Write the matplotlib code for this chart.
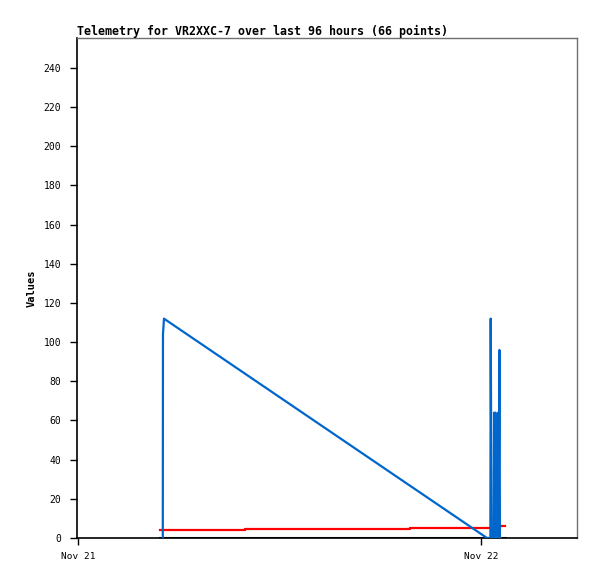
import matplotlib
matplotlib.use("Agg")
import matplotlib.pyplot as plt

# hours since Nov 21 00:00
blue_t = [5.05, 5.06, 5.12, 24.36, 24.56, 24.58, 24.63, 24.76, 24.78, 24.82, 24.86, 24.90, 24.93, 24.96, 24.99, 25.02, 25.05, 25.10, 25.13, 25.16]
blue_v = [0, 104, 112, 0, 0, 112, 0, 0, 64, 0, 64, 32, 0, 48, 0, 64, 0, 96, 0, 0]

red_t = [4.88, 9.95, 19.80, 25.15, 25.43]
red_v = [4.1, 4.6, 5.1, 6.0, 6.0]

black_t = [4.88, 25.43]
black_v = [0, 0]

xtick_pos = [0, 24]
xtick_labels = ["Nov 21", "Nov 22"]
yticks = list(range(0, 241, 20))

title = "Telemetry for VR2XXC-7 over last 96 hours (66 points)"

mono = "DejaVu Sans Mono"
fig = plt.figure(figsize=(5.97, 5.79), dpi=100)
ax = fig.add_axes([77/597, 1-538/579, 500/597, 500/579])

ax.plot(red_t, red_v, color="#ff0000", lw=1.6, drawstyle="steps-post", zorder=2)
ax.plot(black_t, black_v, color="#000000", lw=2.2, zorder=3)
ax.plot(blue_t, blue_v, color="#0066cc", lw=1.6, zorder=4)

ax.set_xlim(-0.06, 29.72)
ax.set_ylim(0, 255.3)
ax.set_xticks(xtick_pos)
ax.set_xticklabels(xtick_labels, family=mono, fontsize=6.8)
ax.set_yticks(yticks)
ax.set_yticklabels([str(v) for v in yticks], family=mono, fontsize=7)
ax.tick_params(axis="both", direction="out", length=5, width=1, color="black")
ax.tick_params(axis="y", pad=6.5)
ax.tick_params(axis="x", pad=5)

for s in ["left", "bottom"]:
    ax.spines[s].set_color("black")
    ax.spines[s].set_linewidth(1.2)
for s in ["top", "right"]:
    ax.spines[s].set_color("#707070")
    ax.spines[s].set_linewidth(1.0)

ax.set_ylabel("Values", family=mono, fontsize=7.5, fontweight="bold")
ax.yaxis.set_label_coords(-40/500, 0.5)
ax.set_title(title, loc="left", family=mono, fontsize=8.35, fontweight="bold", pad=2)

fig.savefig("out.png", dpi=100)
